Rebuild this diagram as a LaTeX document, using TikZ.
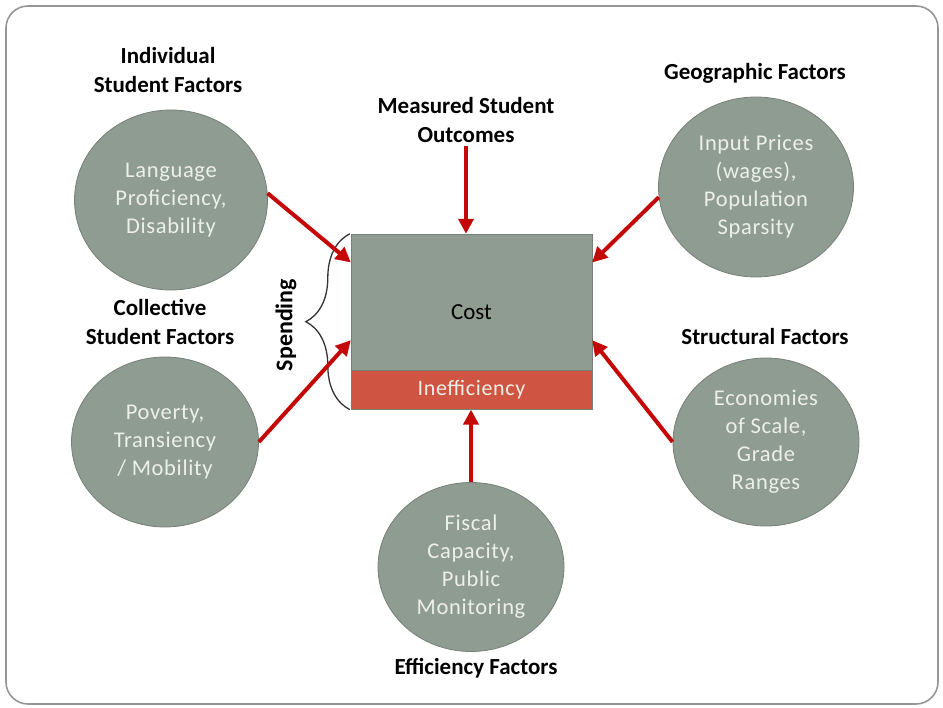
\documentclass[tikz,border=0pt]{standalone}
\usepackage{fontspec}
\setmainfont{Carlito}
\newfontfamily\spacedfont[LetterSpace=3]{Carlito}
\usetikzlibrary{positioning,shapes.geometric,arrows.meta,decorations.pathreplacing,calc}
\definecolor{factgray}{RGB}{143,156,146}
\definecolor{factedge}{RGB}{118,128,120}
\definecolor{factink}{RGB}{236,240,232}
\definecolor{arrowred}{RGB}{196,8,8}
\definecolor{wastered}{RGB}{207,84,66}
\definecolor{framegray}{RGB}{150,150,150}
\tikzset{
  factor/.style={ellipse, fill=factgray, draw=factedge, line width=0.8pt, inner sep=0pt,
    text=factink, align=center, font=\spacedfont\fontsize{22.5}{28}\selectfont},
  heading/.style={align=center, font=\bfseries\fontsize{23}{29}\selectfont},
  push/.style={draw=arrowred, line width=4pt, -{Triangle[length=15pt,width=15pt]}}
}
\begin{document}
\begin{tikzpicture}[x=1pt, y=-1pt]
  \useasboundingbox (0,0) rectangle (943,708);
  \draw[framegray, line width=1.6pt, rounded corners=22pt] (6,6) rectangle (938,704);

  % cost box and the wasted part below it
  \node[draw=factedge, fill=factgray, minimum width=241pt, minimum height=136pt,
        inner sep=0pt, font=\fontsize{23}{26}\selectfont] (cost) at (471.5,302)
       {\smash{\raisebox{-18pt}{Cost}}};
  \node[draw=factedge, fill=wastered, minimum width=241pt, minimum height=39pt,
        inner sep=0pt, text=factink, font=\spacedfont\fontsize{22}{24}\selectfont,
        below=0pt of cost] (waste) {Inefficiency};

  % factor circles
  \node[factor, minimum width=193pt, minimum height=180pt] (indiv) at (171,200)
       {Language\\Proficiency,\\Disability};
  \node[factor, minimum width=195pt, minimum height=180pt] (geo) at (756,187)
       {Input Prices\\(wages),\\Population\\Sparsity};
  \node[factor, minimum width=187pt, minimum height=170pt] (coll) at (165,442)
       {Poverty,\\Transiency\\/ Mobility};
  \node[factor, minimum width=186pt, minimum height=168pt] (struct) at (766,442)
       {Economies\\of Scale,\\Grade\\Ranges};
  \node[factor, minimum width=186pt, minimum height=169pt] (effic) at (471,567)
       {Fiscal\\Capacity,\\Public\\Monitoring};

  % headings
  \node[heading] (indivhead) at (168,70) {Individual\\Student Factors};
  \node[heading] (outcome) at (466,120) {Measured Student\\Outcomes};
  \node[heading] (geohead) at (755,73) {Geographic Factors};
  \node[heading] (collhead) at (160,322) {Collective\\Student Factors};
  \node[heading] (structhead) at (765,337) {Structural Factors};
  \node[heading] (effichead) at (476,668) {Efficiency Factors};

  % spending brace
  \draw[decorate, decoration={brace, amplitude=44pt}, line width=1.3pt, black!80]
       ($(waste.south west)+(-1,0)$) -- ($(cost.north west)+(-1,0)$);
  \node[rotate=90, font=\bfseries\fontsize{24}{26}\selectfont] (spend) at (286,325) {Spending};

  % arrows into the box
  \coordinate (inW1) at ($(cost.north west)!0.21!(cost.south west)$);
  \coordinate (inW2) at ($(cost.north west)!0.78!(cost.south west)$);
  \coordinate (inE1) at ($(cost.north east)!0.21!(cost.south east)$);
  \coordinate (inE2) at ($(cost.north east)!0.78!(cost.south east)$);
  \draw[push] (indiv.4) -- (inW1);
  \draw[push] (coll.east) -- (inW2);
  \draw[push] (geo.186) -- (inE1);
  \draw[push] (struct.west) -- (inE2);
  \draw[push] (outcome.south) -- (outcome.south |- cost.north);
  \draw[push] (effic.north) -- (effic.north |- waste.south);
\end{tikzpicture}
\end{document}
